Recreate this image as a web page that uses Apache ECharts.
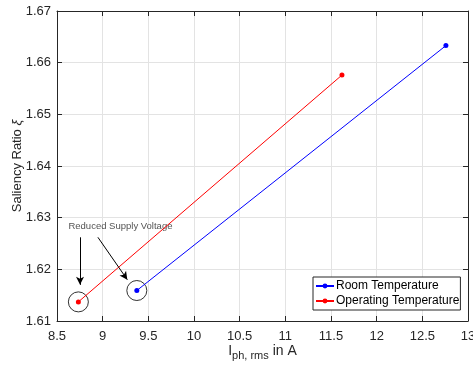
<!DOCTYPE html>
<html><head><meta charset="utf-8">
<script src="https://cdn.jsdelivr.net/npm/echarts@6/dist/echarts.min.js"></script>
<style>html,body{margin:0;padding:0;background:#fff}#c{width:473px;height:367px}</style>
</head><body><div id="c"></div>
<script>
// Data
const roomX = [9.374, 12.758];
const roomY = [1.6159, 1.6633];
const operX = [8.734, 11.62];
const operY = [1.6137, 1.6576];
const xTicks = [8.5, 9, 9.5, 10, 10.5, 11, 11.5, 12, 12.5, 13];
const yTicks = [1.61, 1.62, 1.63, 1.64, 1.65, 1.66, 1.67];
const seriesNames = ['Room Temperature', 'Operating Temperature'];
const annotationText = 'Reduced Supply Voltage';
const annotationPos = [8.625, 1.6284];
const arrows = [
  [[8.752, 1.6262], [8.752, 1.6170]],
  [[8.948, 1.6262], [9.27, 1.6180]]
];

const font = '"Liberation Sans", Arial, sans-serif';
const axisCol = '#262626';
const zip = (a, b) => a.map((v, i) => [v, b[i]]);
const fmt = v => String(Math.round(v * 1000) / 1000);

const chart = echarts.init(document.getElementById('c'), null, {renderer: 'canvas'});
const commonX = {
  type: 'value', min: xTicks[0], max: xTicks[xTicks.length - 1], interval: 0.5,
  axisLine: {show: true, onZero: false, lineStyle: {color: axisCol, width: 1}},
  axisTick: {show: true, inside: true, length: 5, lineStyle: {color: axisCol}},
  splitLine: {show: false}
};
const commonY = {
  type: 'value', min: yTicks[0], max: yTicks[yTicks.length - 1], interval: 0.01,
  axisLine: {show: true, onZero: false, lineStyle: {color: axisCol, width: 1}},
  axisTick: {show: true, inside: true, length: 5, lineStyle: {color: axisCol}},
  splitLine: {show: false}
};
chart.setOption({
  animation: false,
  backgroundColor: '#fff',
  textStyle: {fontFamily: font},
  grid: {left: 57, right: 5, top: 11, bottom: 46, containLabel: false, outerBoundsMode: 'none'},
  xAxis: [
    Object.assign({}, commonX, {
      position: 'bottom',
      axisLabel: {color: axisCol, fontSize: 13, fontFamily: font, margin: 9, formatter: fmt},
      splitLine: {show: true, lineStyle: {color: '#e3e3e3', width: 1}},
      name: '{m|I}{s|ph, rms}{m| in A}', nameLocation: 'middle', nameGap: 20, nameMoveOverlap: false,
      nameTextStyle: {rich: {
        m: {fontSize: 14, color: axisCol, fontFamily: font},
        s: {fontSize: 11, color: axisCol, fontFamily: font, verticalAlign: 'bottom', padding: [9, 0, 0, 0]}
      }}
    }),
    Object.assign({}, commonX, {position: 'top', axisLabel: {show: false}})
  ],
  yAxis: [
    Object.assign({}, commonY, {
      position: 'left',
      axisLabel: {color: axisCol, fontSize: 13, fontFamily: font, margin: 6, formatter: v => v.toFixed(2)},
      splitLine: {show: true, lineStyle: {color: '#e3e3e3', width: 1}},
      name: '{m|Saliency Ratio }{g|ξ}', nameLocation: 'middle', nameGap: 33, nameMoveOverlap: false,
      nameTextStyle: {rich: {
        m: {fontSize: 13, color: axisCol, fontFamily: font},
        g: {fontSize: 13, color: axisCol, fontFamily: font, fontStyle: 'italic'}
      }}
    }),
    Object.assign({}, commonY, {position: 'right', axisLabel: {show: false}})
  ],
  legend: {
    data: seriesNames,
    orient: 'vertical', left: 313, top: 277,
    backgroundColor: '#fff', borderColor: axisCol, borderWidth: 1,
    padding: [3, 1, 3, 2], itemGap: 3, itemWidth: 18, itemHeight: 6,
    textStyle: {fontSize: 12, color: '#000', fontFamily: font, padding: [0, 0, 0, -3]}
  },
  series: [
    {
      name: seriesNames[0], type: 'line', data: zip(roomX, roomY),
      symbol: 'circle', symbolSize: 5, color: '#0000ff',
      lineStyle: {color: '#0000ff', width: 1}, itemStyle: {color: '#0000ff'}, z: 3
    },
    {
      name: seriesNames[1], type: 'line', data: zip(operX, operY),
      symbol: 'circle', symbolSize: 5, color: '#ff0000',
      lineStyle: {color: '#ff0000', width: 1}, itemStyle: {color: '#ff0000'}, z: 3
    },
    {
      name: 'circles', type: 'scatter',
      data: [[roomX[0], roomY[0]], [operX[0], operY[0]]],
      symbol: 'circle', symbolSize: 20,
      itemStyle: {color: 'rgba(0,0,0,0)', borderColor: '#000', borderWidth: 1}, z: 2,
      silent: true
    },
    {
      name: 'note', type: 'scatter', data: [annotationPos], symbolSize: 0,
      label: {show: true, position: 'right', distance: 0, formatter: annotationText,
        fontSize: 9.5, color: '#262626', fontFamily: font},
      markLine: {
        silent: true, symbol: ['none', 'arrow'], symbolSize: [6, 8],
        lineStyle: {color: '#000', width: 1, type: 'solid'},
        label: {show: false},
        data: arrows.map(a => [{coord: a[0]}, {coord: a[1]}])
      }
    }
  ]
});
</script></body></html>
